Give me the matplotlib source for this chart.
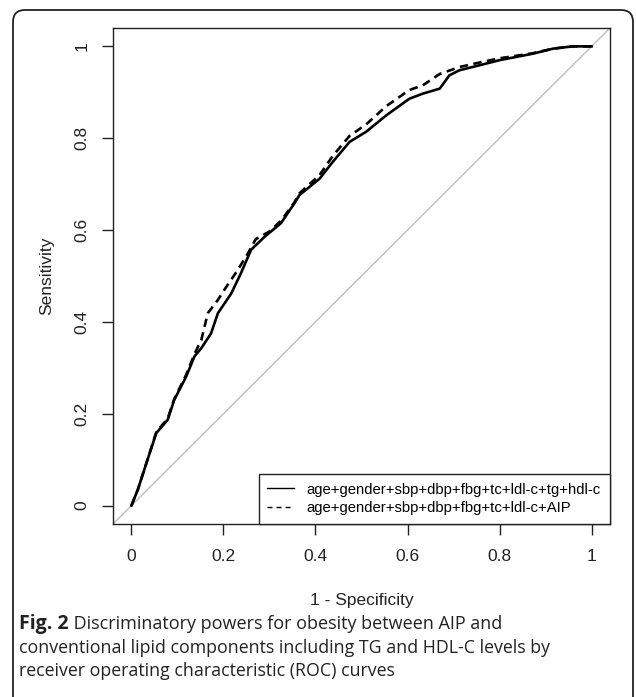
import matplotlib
matplotlib.use("Agg")
import matplotlib.pyplot as plt
from matplotlib.lines import Line2D
from matplotlib.patches import FancyBboxPatch
from matplotlib.transforms import IdentityTransform

plt.rcParams['font.family'] = ['Liberation Sans', 'DejaVu Sans']
plt.rcParams['lines.scale_dashes'] = False

# ---- data ----
fpr_full = [0.000, 0.014, 0.035, 0.054, 0.079, 0.093, 0.119, 0.137, 0.152, 0.173,
            0.188, 0.217, 0.238, 0.260, 0.289, 0.325, 0.354, 0.365, 0.409, 0.438,
            0.474, 0.510, 0.554, 0.604, 0.633, 0.670, 0.691, 0.713, 0.757, 0.800,
            0.872, 0.916, 0.959, 1.000]
tpr_full = [0.000, 0.035, 0.100, 0.158, 0.187, 0.230, 0.281, 0.325, 0.343, 0.375,
            0.419, 0.462, 0.506, 0.557, 0.585, 0.615, 0.658, 0.676, 0.712, 0.749,
            0.792, 0.814, 0.850, 0.886, 0.897, 0.908, 0.937, 0.948, 0.959, 0.970,
            0.984, 0.995, 1.000, 1.000]

fpr_aip = [0.000, 0.014, 0.035, 0.054, 0.079, 0.093, 0.119, 0.137, 0.152, 0.166,
           0.188, 0.202, 0.231, 0.253, 0.270, 0.300, 0.325, 0.354, 0.365, 0.409,
           0.438, 0.474, 0.510, 0.554, 0.604, 0.633, 0.670, 0.713, 0.757, 0.800,
           0.872, 0.916, 0.959, 1.000]
tpr_aip = [0.000, 0.035, 0.100, 0.160, 0.190, 0.232, 0.285, 0.330, 0.361, 0.419,
           0.448, 0.470, 0.513, 0.549, 0.580, 0.597, 0.620, 0.660, 0.680, 0.720,
           0.762, 0.805, 0.830, 0.870, 0.905, 0.915, 0.940, 0.955, 0.965, 0.974,
           0.985, 0.995, 1.000, 1.000]

labels = ["age+gender+sbp+dbp+fbg+tc+ldl-c+tg+hdl-c",
          "age+gender+sbp+dbp+fbg+tc+ldl-c+AIP"]
ticks = [0, 0.2, 0.4, 0.6, 0.8, 1]
tick_labels = ["0", "0.2", "0.4", "0.6", "0.8", "1"]
xlabel = "1 - Specificity"
ylabel = "Sensitivity"
cap_bold = "Fig. 2"
cap_lines = [" Discriminatory powers for obesity between AIP and",
             "conventional lipid components including TG and HDL-C levels by",
             "receiver operating characteristic (ROC) curves"]

W, H = 636, 697
fig = plt.figure(figsize=(W / 100, H / 100), dpi=100)
ax = fig.add_axes([113 / W, 1 - 524 / H, (610 - 113) / W, (524 - 28) / H])
ax.set_xlim(-0.04, 1.04)
ax.set_ylim(-0.04, 1.04)

ax.axline((0, 0), (1, 1), color='#BEBEBE', lw=1.0, zorder=1)
ax.plot(fpr_full, tpr_full, color='black', lw=1.9, zorder=3)
ax.plot(fpr_aip, tpr_aip, color='black', lw=1.9, dashes=(6, 4), zorder=3)

for s in ax.spines.values():
    s.set_linewidth(1.0)
    s.set_color('#222222')

ax.set_xticks(ticks)
ax.set_xticklabels(tick_labels)
ax.set_yticks(ticks)
ax.set_yticklabels(tick_labels, rotation=90, va='center')
ax.tick_params(axis='both', direction='out', length=8, width=1.0,
               color='#222222', labelsize=12.5, labelcolor='#222222')
ax.tick_params(axis='x', pad=10)
ax.tick_params(axis='y', pad=9)

fig.text(362 / W, 1 - 601 / H, xlabel, ha='center', va='center',
         fontsize=12.5, color='#222222')
fig.text(47 / W, 1 - 276 / H, ylabel, ha='center', va='center',
         rotation=90, fontsize=12.5, color='#222222')

h1 = Line2D([], [], color='black', lw=1.0)
h2 = Line2D([], [], color='black', lw=1.0, dashes=(3.6, 2.9))
leg = ax.legend([h1, h2], labels, loc='lower right', borderaxespad=0,
                fontsize=10.7, frameon=True, fancybox=False, framealpha=1,
                edgecolor='#222222', handlelength=1.8, handletextpad=0.85,
                labelspacing=0.3, borderpad=0.6)
leg.get_frame().set_linewidth(1.0)

# caption
cy = [624, 648, 671]
tb = fig.text(19 / W, 1 - cy[0] / H, cap_bold, ha='left', va='center',
              fontsize=14, fontweight='bold', family='Open Sans', color='#222222')
fig.canvas.draw()
bb = tb.get_window_extent()
fig.text(bb.x1 / W, 1 - cy[0] / H, cap_lines[0], ha='left', va='center',
         fontsize=13, family='Open Sans', color='#222222')
for y, line in zip(cy[1:], cap_lines[1:]):
    fig.text(19 / W, 1 - y / H, line, ha='left', va='center',
             fontsize=12.8, family='Open Sans', color='#222222')

# outer rounded frame
frame = FancyBboxPatch((13, -20), 620, H - 10 + 20, boxstyle="round,pad=0,rounding_size=12",
                       transform=IdentityTransform(), fill=False, edgecolor='#222222', lw=1.3)
fig.add_artist(frame)

fig.savefig("out.png", dpi=100)
